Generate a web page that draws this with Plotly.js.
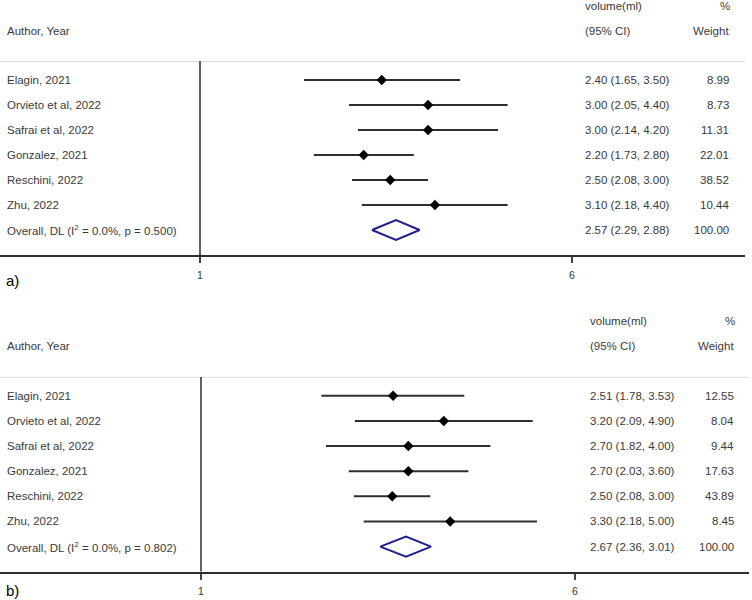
<!DOCTYPE html>
<html><head><meta charset="utf-8">
<script src="https://cdn.plot.ly/plotly-3.0.1.min.js"></script>
<style>html,body{margin:0;padding:0;background:#fff}#chart{width:752px;height:600px}</style>
</head><body><div id="chart"></div>
<script>
// ---- data ----
const studies = ["Elagin, 2021","Orvieto et al, 2022","Safrai et al, 2022","Gonzalez, 2021","Reschini, 2022","Zhu, 2022"];
const tickVals = [1, 6];
const tickText = ["1", "6"];

// panel a
const estA    = [2.40, 3.00, 3.00, 2.20, 2.50, 3.10];
const lowA    = [1.65, 2.05, 2.14, 1.73, 2.08, 2.18];
const highA   = [3.50, 4.40, 4.20, 2.80, 3.00, 4.40];
const weightA = ["8.99", "8.73", "11.31", "22.01", "38.52", "10.44"];
const overallA = [2.57, 2.29, 2.88];   // est, low, high
const overallLabelA = "Overall, DL (I<sup>2</sup> = 0.0%, p = 0.500)";

// panel b
const estB    = [2.51, 3.20, 2.70, 2.70, 2.50, 3.30];
const lowB    = [1.78, 2.09, 1.82, 2.03, 2.08, 2.18];
const highB   = [3.53, 4.90, 4.00, 3.60, 3.00, 5.00];
const weightB = ["12.55", "8.04", "9.44", "17.63", "43.89", "8.45"];
const overallB = [2.67, 2.36, 3.01];
const overallLabelB = "Overall, DL (I<sup>2</sup> = 0.0%, p = 0.802)";

const headerCol1 = ["volume(ml)", "(95% CI)"];
const headerCol2 = ["%", "Weight"];
const headerLabel = "Author, Year";
const panelLabels = ["a)", "b)"];

// ---- layout helpers ----
const W = 752, H = 600;
const px = v => v / W;
const py = v => 1 - v / H;
const TXT = "#3a3a3a";
const FONT = {family: "Liberation Sans, Arial, sans-serif", size: 11.5, color: TXT};
function logRange(p1, p6, a, b) {
  const k = (p6 - p1) / Math.log10(6);
  return [(a - p1) / k, (b - p1) / k];
}
const fmt = (e, l, h) => e.toFixed(2) + " (" + l.toFixed(2) + ", " + h.toFixed(2) + ")";

const traces = [];
const annotations = [];
const shapes = [];

function ann(text, yref, x, y, xanchor, font) {
  annotations.push({text: text, xref: "paper", yref: yref, x: x, y: y, xanchor: xanchor, yanchor: "middle", showarrow: false, font: font || FONT});
}

function panel(est, low, high, weight, overall, overallLabel, xa, ya, cfg) {
  const xs = [], ys = [];
  const rows = est.map((_, i) => i + 1);
  const oRow = est.length + 1;
  est.forEach((_, i) => { xs.push(low[i], high[i], null); ys.push(rows[i], rows[i], null); });
  traces.push({type: "scatter", mode: "lines", x: xs, y: ys, xaxis: xa, yaxis: ya,
    line: {color: "#2e2e2e", width: 2}, hoverinfo: "skip", showlegend: false});
  traces.push({type: "scatter", mode: "markers", x: est, y: rows, xaxis: xa, yaxis: ya,
    marker: {symbol: "diamond", size: 8, color: "#000"}, showlegend: false});
  const dh = 0.4;
  traces.push({type: "scatter", mode: "lines", xaxis: xa, yaxis: ya,
    x: [overall[1], overall[0], overall[2], overall[0], overall[1]],
    y: [oRow, oRow - dh, oRow, oRow + dh, oRow],
    line: {color: "#1f1f8f", width: 2}, showlegend: false});
  const allLabels = studies.concat([overallLabel]);
  const allCI = est.map((e, i) => fmt(e, low[i], high[i])).concat([fmt(overall[0], overall[1], overall[2])]);
  const allW = weight.concat(["100.00"]);
  allLabels.forEach((t, i) => {
    const r = i + 1;
    ann(t, ya, px(cfg.labelX), r, "left");
    ann(allCI[i], ya, px(cfg.ciX), r, "left");
    ann(allW[i], ya, px(cfg.wX), r, "right");
  });
  // headers (above plotting area, paper coords)
  ann(headerCol1[0], "paper", px(cfg.ciX), py(cfg.h1), "left");
  ann(headerCol1[1], "paper", px(cfg.ciX), py(cfg.h2), "left");
  ann(headerCol2[0], "paper", px(cfg.wX + 1), py(cfg.h1), "right");
  ann(headerCol2[1], "paper", px(cfg.wX), py(cfg.h2), "right");
  ann(headerLabel, "paper", px(cfg.labelX), py(cfg.h2), "left");
  ann(cfg.panel, "paper", px(4), py(cfg.panelY), "left",
    {family: "Liberation Sans, Arial, sans-serif", size: 15, color: "#000"});
  // light separator and vertical null line
  shapes.push({type: "line", xref: "paper", yref: ya, x0: 0, x1: px(cfg.right), y0: cfg.top, y1: cfg.top, line: {color: "#dcdcdc", width: 2}});
  shapes.push({type: "line", xref: xa, yref: ya, x0: 1, x1: 1, y0: cfg.top, y1: oRow + 1, line: {color: "#2e2e2e", width: 1.5}});
}

const topRow = 0.24;
panel(estA, lowA, highA, weightA, overallA, overallLabelA, "x", "y",
  {labelX: 5, ciX: 583, wX: 731, right: 745, top: topRow, panel: panelLabels[0], panelY: 281, h1: 6, h2: 31});
panel(estB, lowB, highB, weightB, overallB, overallLabelB, "x2", "y2",
  {labelX: 5, ciX: 588, wX: 736, right: 749, top: topRow, panel: panelLabels[1], panelY: 590, h1: 321, h2: 346});

const axisCommon = {type: "log", showgrid: false, zeroline: false, showline: true, linecolor: "#2e2e2e", linewidth: 2,
  ticks: "outside", ticklen: 6, tickwidth: 1.5, tickcolor: "#444", tickvals: tickVals, ticktext: tickText,
  ticklabelstandoff: 3,
  tickfont: {family: "Liberation Sans, Arial, sans-serif", size: 10.5, color: "#333"}, fixedrange: true};

const layout = {
  width: W, height: H, margin: {l: 0, r: 0, t: 0, b: 0},
  paper_bgcolor: "#fff", plot_bgcolor: "rgba(0,0,0,0)", showlegend: false,
  xaxis: Object.assign({}, axisCommon, {domain: [0, px(745)], range: logRange(200, 572, 0, 745), anchor: "y"}),
  yaxis: {domain: [py(255), py(61)], range: [8, topRow], visible: false, anchor: "x"},
  xaxis2: Object.assign({}, axisCommon, {domain: [0, px(749)], range: logRange(201, 575, 0, 749), anchor: "y2"}),
  yaxis2: {domain: [py(571.7), py(376.7)], range: [8, topRow], visible: false, anchor: "x2"},
  annotations: annotations, shapes: shapes
};

Plotly.newPlot("chart", traces, layout, {displayModeBar: false, staticPlot: true});
</script>
</body></html>
